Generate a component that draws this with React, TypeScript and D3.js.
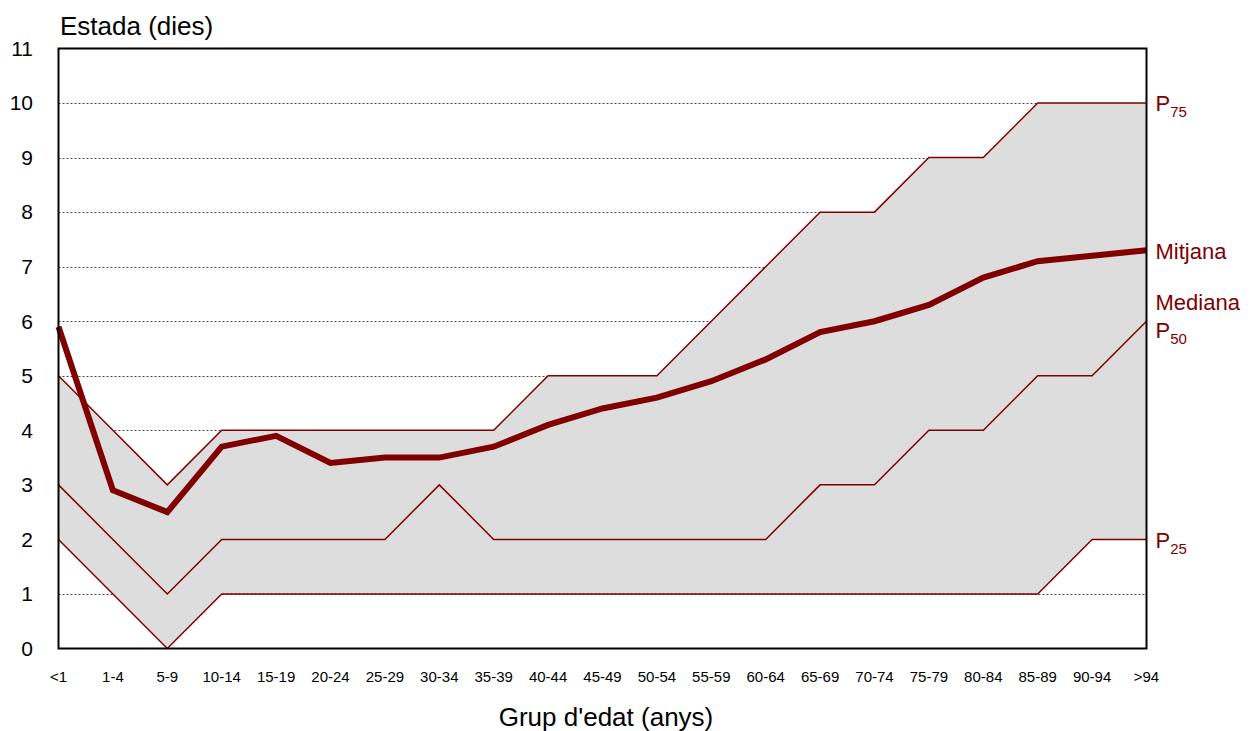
import React from "react";
import * as d3 from "d3";

const categories = ["<1","1-4","5-9","10-14","15-19","20-24","25-29","30-34","35-39","40-44","45-49","50-54","55-59","60-64","65-69","70-74","75-79","80-84","85-89","90-94",">94"];
const p75 = [5,4,3,4,4,4,4,4,4,5,5,5,6,7,8,8,9,9,10,10,10];
const p50 = [3,2,1,2,2,2,2,3,2,2,2,2,2,2,3,3,4,4,5,5,6];
const p25 = [2,1,0,1,1,1,1,1,1,1,1,1,1,1,1,1,1,1,1,2,2];
const mean = [5.9,2.9,2.5,3.7,3.9,3.4,3.5,3.5,3.7,4.1,4.4,4.6,4.9,5.3,5.8,6.0,6.3,6.8,7.1,7.2,7.3];
const yTicks = [0,1,2,3,4,5,6,7,8,9,10,11];
const gridTicks = [1,2,3,4,5,6,7,8,9,10];

const W = 1258, H = 731;
const L = 58.5, R = 1146.5, T = 48.5, B = 648.5;
const RED = "#800000";
const FONT = "Arial, 'Liberation Sans', sans-serif";

export default function App() {
  const x = d3.scalePoint<string>().domain(categories).range([L, R]);
  const y = d3.scaleLinear().domain([0, 11]).range([B, T]);
  const idx = categories.map((_, i) => i);
  const area = d3.area<number>()
    .x(i => x(categories[i])!)
    .y0(i => y(p25[i]))
    .y1(i => y(p75[i]));
  const mk = (arr: number[]) => d3.line<number>().x(i => x(categories[i])!).y(i => y(arr[i]))(idx)!;
  const last = categories[categories.length - 1];
  const lx = x(last)! + 9;
  return (
    <svg width={W} height={H} style={{ position: "absolute", left: 0, top: 0 }} fontFamily={FONT}>
      <rect x={0} y={0} width={W} height={H} fill="#fff" />
      {gridTicks.map(t => (
        <line key={t} x1={L} x2={R} y1={Math.round(y(t)) + 0.5} y2={Math.round(y(t)) + 0.5} stroke="#444" strokeWidth={1} strokeDasharray="2,2" />
      ))}
      <path d={area(idx)!} fill="#dddddd" />
      <path d={mk(p75)} fill="none" stroke={RED} strokeWidth={1.5} />
      <path d={mk(p50)} fill="none" stroke={RED} strokeWidth={1.5} />
      <path d={mk(p25)} fill="none" stroke={RED} strokeWidth={1.5} />
      <path d={mk(mean)} fill="none" stroke={RED} strokeWidth={6} strokeLinejoin="miter" />
      <rect x={L} y={T} width={R - L} height={B - T} fill="none" stroke="#000" strokeWidth={2} />
      {yTicks.map(t => (
        <text key={t} x={33} y={y(t)} dy="0.35em" textAnchor="end" fontSize={21} fill="#000">{t}</text>
      ))}
      {categories.map(c => (
        <text key={c} x={x(c)!} y={677} dy="0.35em" textAnchor="middle" fontSize={15} fill="#000">{c}</text>
      ))}
      <text x={60} y={35} fontSize={26} fill="#000">Estada (dies)</text>
      <text x={606} y={726} textAnchor="middle" fontSize={26} fill="#000">Grup d'edat (anys)</text>
      <text x={lx} y={y(p75[p75.length - 1]) + 8} fontSize={22} fill={RED}>P<tspan fontSize={15} dy={6}>75</tspan></text>
      <text x={lx} y={y(mean[mean.length - 1]) + 9} fontSize={22} fill={RED}>Mitjana</text>
      <text x={lx} y={y(p50[p50.length - 1]) - 11} fontSize={22} fill={RED}>Mediana</text>
      <text x={lx} y={y(p50[p50.length - 1]) + 17} fontSize={22} fill={RED}>P<tspan fontSize={15} dy={6}>50</tspan></text>
      <text x={lx} y={y(p25[p25.length - 1]) + 9} fontSize={22} fill={RED}>P<tspan fontSize={15} dy={6}>25</tspan></text>
    </svg>
  );
}
